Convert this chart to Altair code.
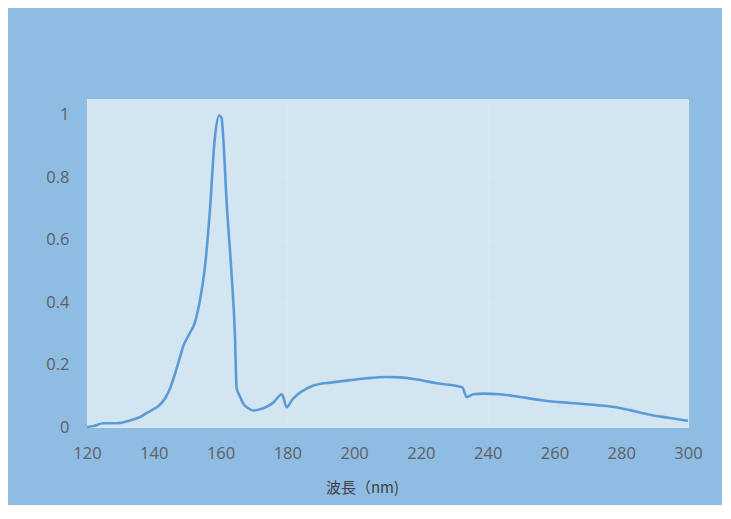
import altair as alt
import pandas as pd

wavelength = [120, 122, 124.8, 128.9, 132.9, 135.9, 137.9, 139.9, 141.5, 143.4, 144.9,
              146.4, 147.9, 148.8, 150.5, 152.3, 153.8, 155.3, 156.8, 158.3, 159.6,
              160.3, 160.8, 161.8, 163.3, 164.3, 164.8, 165.8, 166.8, 168.3, 169.8,
              172.8, 175.8, 178.4, 179.8, 181.5, 183.8, 185.8, 187.8, 190.3, 192.8,
              198.8, 203.8, 209.8, 213.8, 218.8, 224.8, 232.4, 233.7, 235.7, 238.7,
              243.6, 249.7, 256.7, 264.7, 272.7, 279.6, 284.6, 289.6, 294.6, 300]
intensity = [0.0, 0.003, 0.012, 0.012, 0.021, 0.032, 0.045, 0.057, 0.068, 0.092, 0.124,
             0.172, 0.226, 0.258, 0.295, 0.334, 0.404, 0.51, 0.692, 0.927, 0.997,
             0.99, 0.927, 0.724, 0.489, 0.297, 0.126, 0.098, 0.075, 0.06, 0.053,
             0.06, 0.078, 0.105, 0.063, 0.088, 0.11, 0.123, 0.133, 0.139, 0.142,
             0.15, 0.156, 0.16, 0.159, 0.152, 0.14, 0.127, 0.096, 0.105, 0.107,
             0.105, 0.096, 0.085, 0.077, 0.07, 0.061, 0.049, 0.037, 0.029, 0.02]

x_ticks = [120, 140, 160, 180, 200, 220, 240, 260, 280, 300]
y_ticks = [0, 0.2, 0.4, 0.6, 0.8, 1]

df = pd.DataFrame({"wl": wavelength, "v": intensity})

label_font = "Open Sans"

chart = alt.Chart(df).mark_line(color="#5B9BD5", strokeWidth=2.6, interpolate="monotone").encode(
    x=alt.X("wl:Q",
            scale=alt.Scale(domain=[120, 300], nice=False, zero=False),
            axis=alt.Axis(values=x_ticks, title="波長（nm)", labelFontSize=16.5,
                          labelFont=label_font, labelColor="#5f6062", labelPadding=26,
                          labelBaseline="middle", labelFlush=False, labelOverlap=False,
                          ticks=False, tickSize=0, domain=False,
                          grid=True, gridColor="#dae6f0", gridWidth=1,
                          titleFont="Noto Sans CJK JP", titleFontSize=15, titleFontWeight="normal",
                          titleColor="#404040", titleX=275, titleY=60, titleAlign="center",
                          titleBaseline="middle", titleAnchor="start")),
    y=alt.Y("v:Q",
            scale=alt.Scale(domain=[0, 1.05], nice=False),
            axis=alt.Axis(values=y_ticks, title=None, labelFontSize=16.5,
                          labelFont=label_font, labelColor="#5f6062", labelPadding=18,
                          labelAlign="right", labelBaseline="middle", labelFlush=False,
                          labelExpr="datum.value == 0 ? '0' : format(datum.value, '.1~f')",
                          ticks=False, tickSize=0, domain=False,
                          grid=True, gridColor="#dae6f0", gridWidth=1)),
).properties(
    width=601,
    height=328,
    background="#8FBCE2",
    padding={"left": 79, "top": 91, "right": 34, "bottom": 78},
    autosize=alt.AutoSizeParams(type="none"),
).configure_view(
    fill="#D4E5F2",
    stroke=None,
)

chart.save("out.html", embed_options={"renderer": "svg", "actions": False})
